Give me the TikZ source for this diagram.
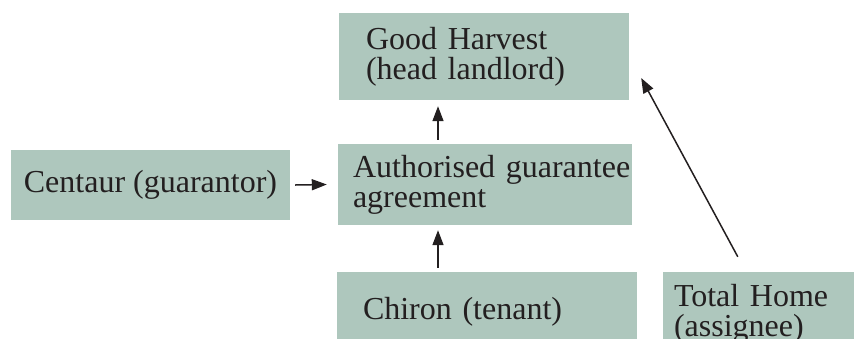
\documentclass[tikz,border=0pt]{standalone}
\usepackage{fontspec}
\setmainfont{Liberation Serif}
\usepackage{xcolor}
\usetikzlibrary{arrows.meta}
\definecolor{sage}{RGB}{174,199,189}
\definecolor{ink}{RGB}{35,31,32}

\begin{document}
\begin{tikzpicture}[x=1pt, y=-1pt,
  party/.style={fill=sage, text=ink, align=left, inner ysep=0pt,
                font=\fontsize{32}{30}\selectfont},
  link/.style={-{Triangle[length=15pt,width=11pt]}, line width=1.5pt, ink}]
  \useasboundingbox (0,0) rectangle (854,338);
  % parties and the agreement
  \node[party, minimum height=87pt, text width=236pt, inner xsep=27pt] (harvest) at (484,56.5) {Good Harvest\\(head landlord)};
  \node[party, minimum height=81pt, text width=264pt, inner xsep=15pt] (aga) at (485,184.5) {\mbox{Authorised guarantee}\\agreement};
  \node[party, minimum width=279pt, minimum height=70pt] (centaur) at (150.5,185) {Centaur (guarantor)};
  \node[party, minimum height=79pt, text width=248pt, inner xsep=26pt] (chiron) at (487,311.5) {Chiron (tenant)};
  \node[party, minimum height=84pt, text width=178pt, inner xsep=11pt] (home) at (763,314) {Total Home\\(assignee)};
  % arrows
  \draw[link] ([xshift=5pt]centaur.east) -- ([xshift=-11pt]aga.west);
  \draw[link] ([xshift=-47pt,yshift=4pt]aga.north) -- ([xshift=-46pt,yshift=-6pt]harvest.south);
  \draw[link] ([xshift=-49pt,yshift=4pt]chiron.north) -- ([xshift=-47pt,yshift=-5pt]aga.south);
  \draw[link] ([xshift=75pt,yshift=15pt]home.north west) -- ([xshift=12pt,yshift=-21.5pt]harvest.east);
\end{tikzpicture}
\end{document}
